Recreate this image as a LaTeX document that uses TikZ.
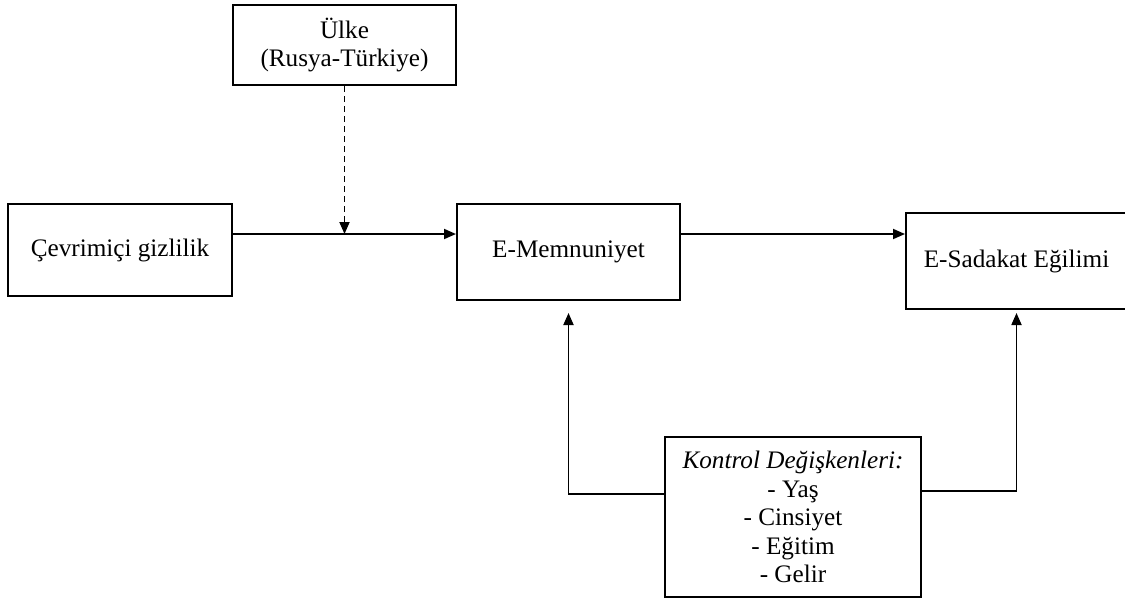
\documentclass[tikz,border=0pt]{standalone}
\usepackage{fontspec}
\setmainfont{Liberation Serif}
\usetikzlibrary{arrows.meta}
\begin{document}
\begin{tikzpicture}[x=0.5pt,y=-0.5pt,
  box/.style={draw=black,line width=1pt,inner sep=0pt,align=center,
    font=\fontsize{12.6}{14.2}\selectfont},
  arr/.style={line width=0.9pt,-{Triangle[length=6pt,width=5pt]}},
  darr/.style={arr,dash pattern=on 3pt off 2pt}]
\useasboundingbox (0,0) rectangle (1125,600);
\clip (0,0) rectangle (1125,600);
\fill[white] (0,0) rectangle (1125,600);
\node[box,minimum width=111.5pt,minimum height=40pt] (ulke) at (344.5,45) {Ülke\\(Rusya-Türkiye)};
\node[box,minimum width=112pt,minimum height=46pt] (cev) at (120,250) {Çevrimiçi gizlilik};
\node[box,minimum width=111.5pt,minimum height=48pt] (mem) at (568.5,252) {E-Memnuniyet};
\node[box,minimum width=110.5pt,minimum height=48pt] (sad) at (1016.5,261) {E-Sadakat Eğilimi};
\node[box,minimum width=128pt,minimum height=80pt] (kon) at (793,517) {\textit{Kontrol Değişkenleri:}\\- Yaş\\- Cinsiyet\\- Eğitim\\- Gelir};
\coordinate (m) at (345,234);
\draw[arr] (cev.east |- m) -- (mem.west |- m);
\draw[darr] (ulke.south) -- (ulke.south |- m);
\draw[arr] (mem.east |- m) -- (sad.west |- m);
\draw[arr] ([yshift=11.5pt]kon.west) -| ([yshift=-6pt]mem.south);
\draw[arr] ([yshift=13pt]kon.east) -| ([yshift=-1.5pt]sad.south);
\end{tikzpicture}
\end{document}
